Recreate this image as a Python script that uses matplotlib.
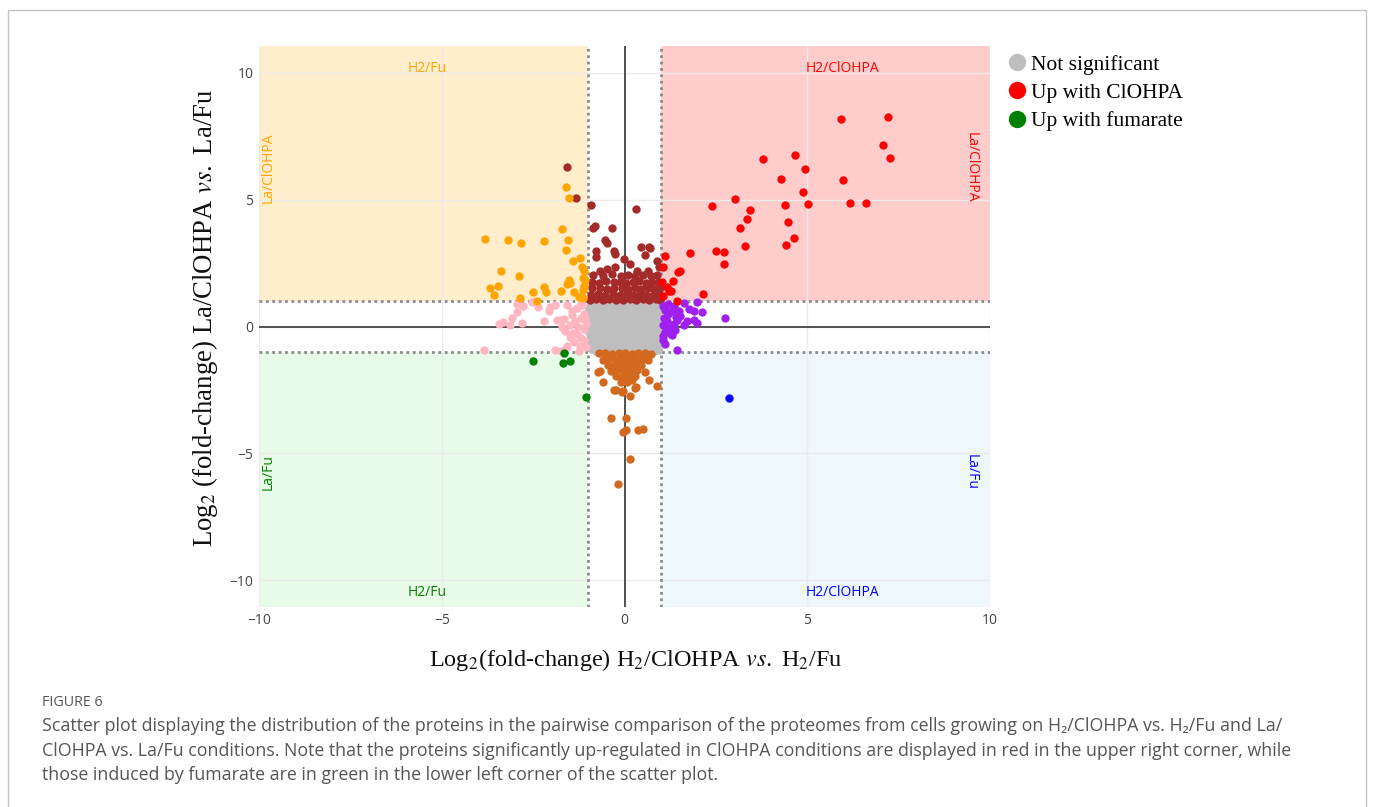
"""
Scatter of log2 fold-changes, H2 vs La conditions (figure 6)
"""
import matplotlib
matplotlib.use("Agg")
import matplotlib.pyplot as plt
from matplotlib.lines import Line2D
from matplotlib.patches import Rectangle

# ---- data ----
gray_x = [-0.93, -0.74, -0.56, -0.37, -0.19, 0.0, 0.18, 0.37, 0.55, 0.74, 0.92,
          -0.97, -0.84, -0.66, -0.47, -0.29, -0.1, 0.09, 0.27, 0.46, 0.64, 0.83, 0.95,
          -0.93, -0.75, -0.56, -0.38, -0.19, 0.0, 0.18, 0.37, 0.55, 0.73, 0.93,
          -0.97, -0.84, -0.65, -0.47, -0.28, -0.1, 0.08, 0.27, 0.45, 0.64, 0.82, 0.96,
          -0.93, -0.74, -0.56, -0.37, -0.19, 0.0, 0.19, 0.37, 0.56, 0.74, 0.94,
          -0.97, -0.84, -0.66, -0.47, -0.29, -0.1, 0.09, 0.27, 0.46, 0.64, 0.83, 0.95,
          -0.92, -0.73, -0.55, -0.36, -0.18, 0.01, 0.2, 0.38, 0.57, 0.75, 0.93,
          -0.96, -0.84, -0.65, -0.47, -0.28, -0.1, 0.08, 0.27, 0.45, 0.64, 0.82, 0.94,
          -0.9, -0.72, -0.53, -0.35, -0.16, 0.03, 0.21, 0.4, 0.58, 0.77, 0.92,
          -0.75, 0.80]
gray_y = [0.92, 0.91, 0.93, 0.92, 0.9, 0.92, 0.93, 0.91, 0.92, 0.9, 0.91,
          0.68, 0.69, 0.7, 0.68, 0.69, 0.7, 0.68, 0.69, 0.7, 0.68, 0.69, 0.68,
          0.46, 0.45, 0.47, 0.46, 0.45, 0.46, 0.47, 0.45, 0.46, 0.47, 0.45,
          0.23, 0.22, 0.24, 0.23, 0.22, 0.24, 0.23, 0.22, 0.24, 0.23, 0.22, 0.23,
          0.0, 0.01, -0.01, 0.0, 0.01, 0.0, -0.01, 0.0, 0.01, 0.0, -0.01,
          -0.23, -0.22, -0.24, -0.23, -0.22, -0.24, -0.23, -0.22, -0.24, -0.23, -0.22, -0.23,
          -0.46, -0.45, -0.47, -0.46, -0.45, -0.46, -0.47, -0.45, -0.46, -0.47, -0.45,
          -0.69, -0.68, -0.7, -0.69, -0.68, -0.7, -0.69, -0.68, -0.7, -0.69, -0.68, -0.69,
          -0.9, -0.92, -0.91, -0.93, -0.9, -0.92, -0.91, -0.93, -0.9, -0.92, -0.91,
          -1.02, -0.97]

brown_x = [-1.56, -1.33, -0.91, 0.31, -0.86, -0.80, -0.34, -0.52, -0.47, -0.79, -0.77,
           -0.29, -0.25, 0.44, 0.66, 0.69, 0.57, 0.89, 0.94, -0.02, 0.16, -0.66, -0.47,
           -0.27, 0.35, 0.64,
           -0.85, -0.6, -0.35, -0.1, 0.1, 0.3, 0.5, 0.72, 0.9,
           -0.9, -0.7, -0.5, -0.3, -0.12, 0.05, 0.22, 0.4, 0.58, 0.76, 0.93,
           -0.88, -0.68, -0.48, -0.28, -0.08, 0.1, 0.28, 0.46, 0.64, 0.82, 0.96,
           -0.92, -0.72, -0.52, -0.32, -0.12, 0.06, 0.24, 0.42, 0.6, 0.78, 0.95,
           -0.95, -0.78, -0.6, -0.42, -0.24, -0.05, 0.14, 0.32, 0.5, 0.68, 0.86, 0.98]
brown_y = [6.29, 5.08, 4.78, 4.62, 3.90, 3.95, 3.87, 3.39, 3.28, 2.99, 2.73,
           2.99, 2.86, 3.12, 3.15, 3.10, 2.80, 2.60, 2.33, 2.66, 2.47, 2.20, 2.27,
           2.33, 2.20, 2.18,
           2.02, 1.98, 2.05, 1.97, 2.03, 1.99, 2.04, 1.98, 2.02,
           1.76, 1.73, 1.78, 1.74, 1.77, 1.72, 1.76, 1.79, 1.73, 1.76, 1.74,
           1.5, 1.53, 1.48, 1.52, 1.5, 1.47, 1.53, 1.49, 1.51, 1.48, 1.52,
           1.26, 1.28, 1.24, 1.27, 1.25, 1.29, 1.24, 1.27, 1.26, 1.23, 1.27,
           1.06, 1.07, 1.05, 1.08, 1.06, 1.05, 1.07, 1.06, 1.08, 1.05, 1.07, 1.06]

choc_x = [-0.36, 0.05, 0.03, -0.04, 0.36, 0.50, 0.14, -0.17, -0.59, -0.72, -0.67,
          0.55, 0.66, 0.89, -0.30, -0.24, -0.07, -0.03, 0.14, 0.28, 0.31, 0.21,
          -0.7, -0.52, -0.34, -0.16, 0.02, 0.2, 0.38, 0.56, 0.72,
          -0.6, -0.42, -0.24, -0.06, 0.12, 0.3, 0.48, 0.64,
          -0.45, -0.27, -0.09, 0.09, 0.27, 0.45,
          -0.38, -0.2, -0.02, 0.16, 0.34,
          -0.22, -0.04, 0.12, 0.3,
          -0.1, 0.06]
choc_y = [-3.60, -3.62, -4.08, -4.16, -4.07, -4.03, -5.20, -6.19, -2.19, -1.80, -1.75,
          -1.81, -2.11, -2.34, -2.52, -2.52, -2.57, -2.55, -2.73, -2.44, -2.38, -2.09,
          -1.06, -1.05, -1.07, -1.05, -1.06, -1.08, -1.05, -1.06, -1.07,
          -1.3, -1.28, -1.31, -1.27, -1.29, -1.3, -1.28, -1.31,
          -1.52, -1.5, -1.53, -1.49, -1.51, -1.52,
          -1.74, -1.72, -1.75, -1.73, -1.71,
          -1.96, -1.94, -1.97, -1.95,
          -2.2, -2.18]

pink_x = [-3.85, -3.44, -3.32, -3.14, -3.07, -2.94, -2.95, -2.80, -2.77, -2.53, -2.42,
          -2.37, -2.21, -2.07, -2.04, -1.91, -1.84, -1.76, -1.66, -1.70, -1.64, -1.57,
          -1.50, -1.89, -1.60, -1.75, -1.25, -1.57, -1.48, -1.43, -1.29, -1.20, -1.12,
          -1.35, -1.20, -1.10, -1.30, -1.15, -1.05, -1.10, -1.38, -1.05, -1.22, -1.45,
          -1.28, -1.08, -1.40, -1.20]
pink_y = [-0.92, 0.08, 0.16, 0.06, 0.35, 0.56, 0.87, 0.14, 0.80, 0.98, 0.96,
          0.76, 0.20, 0.63, 0.76, 0.83, 0.26, 0.24, 0.30, -0.03, -0.16, 0.85,
          -0.42, -0.92, -0.84, -0.98, -0.98, -0.75, 0.04, 0.63, -0.28, -0.45, -0.55,
          0.20, 0.35, 0.50, 0.72, 0.85, 0.10, -0.10, -0.60, -0.80, -0.75, 0.45,
          0.0, 0.30, -0.25, 0.90]

purple_x = [2.76, 1.44, 1.62, 1.97, 1.76, 1.90, 2.11, 1.90, 1.99, 1.62, 1.53,
            1.35, 1.40, 1.06, 1.26, 1.31, 1.05, 1.12, 1.20, 1.08, 1.15, 1.30,
            1.05, 1.22, 1.10, 1.45, 1.38, 1.05, 1.18, 1.35, 1.50, 1.70, 1.12]
purple_y = [0.34, -0.94, 0.92, 0.96, 0.70, 0.63, 0.59, 0.24, 0.13, 0.04, 0.43,
            0.10, 0.37, -0.52, -0.29, -0.35, 0.80, 0.65, 0.50, 0.35, 0.20, 0.60,
            0.05, -0.05, -0.20, 0.25, -0.15, -0.38, 0.90, 0.82, 0.60, 0.20, -0.70]

orange_x = [-1.59, -1.52, -3.82, -3.20, -2.84, -2.19, -1.70, -1.54, -1.60, -1.21, -1.42,
            -1.16, -3.39, -2.88, -1.11, -1.13, -1.53, -1.56, -1.50, -1.09, -3.69, -3.47,
            -3.58, -2.19, -2.16, -2.51, -1.75, -1.37, -1.13, -2.85, -1.13, -2.39, -1.10,
            -1.25]
orange_y = [5.51, 5.07, 3.46, 3.41, 3.29, 3.35, 3.86, 3.40, 3.03, 2.68, 2.59,
            2.34, 2.19, 1.97, 2.20, 1.93, 1.85, 1.69, 1.72, 1.84, 1.51, 1.60,
            1.25, 1.57, 1.37, 1.35, 1.41, 1.37, 1.42, 1.11, 1.13, 1.01, 1.60,
            1.15]

red_x = [5.92, 7.22, 7.07, 7.27, 3.80, 4.66, 4.94, 4.28, 5.97, 4.88, 3.03,
         2.40, 3.42, 4.38, 5.02, 6.18, 6.62, 3.36, 3.16, 4.48, 4.64, 4.43,
         3.31, 1.80, 2.51, 2.72, 2.71, 1.51, 1.46, 1.34, 2.14, 1.28, 1.12,
         1.02, 1.45, 1.05, 1.15, 1.22, 1.06]
red_y = [8.18, 8.24, 7.15, 6.64, 6.60, 6.76, 6.21, 5.83, 5.77, 5.30, 5.01,
         4.75, 4.59, 4.78, 4.82, 4.86, 4.87, 4.23, 3.90, 4.11, 3.50, 3.23,
         3.19, 2.90, 2.98, 2.95, 2.45, 2.18, 2.15, 1.78, 1.27, 1.39, 2.76,
         1.74, 1.02, 2.34, 1.54, 1.40, 1.20]

green_x = [-2.51, -1.69, -1.50, -1.05, -1.66]
green_y = [-1.37, -1.43, -1.37, -2.78, -1.04]

blue_x = [2.87]
blue_y = [-2.82]

legend_labels = ["Not significant", "Up with ClOHPA", "Up with fumarate"]

# ---- figure ----
fig = plt.figure(figsize=(13.73, 8.07), dpi=100)
ax = fig.add_axes([259 / 1373, 200 / 807, 731 / 1373, 561 / 807])

# page frame
fig.patches.append(Rectangle((8 / 1373, -0.01), 1358 / 1373, 797 / 807 + 0.01,
                             transform=fig.transFigure, fill=False,
                             edgecolor="#c4c4c4", lw=1))

# quadrant shading
ax.add_patch(Rectangle((-10, 1), 9, 10.05, facecolor="#FFA500", alpha=0.2, lw=0, zorder=0.2))
ax.add_patch(Rectangle((1, 1), 9, 10.05, facecolor="#FF0000", alpha=0.2, lw=0, zorder=0.2))
ax.add_patch(Rectangle((-10, -11.05), 9, 10.05, facecolor="#90EE90", alpha=0.2, lw=0, zorder=0.2))
ax.add_patch(Rectangle((1, -11.05), 9, 10.05, facecolor="#ADD8E6", alpha=0.2, lw=0, zorder=0.2))

ax.set_axisbelow(True)
ax.grid(True, color="#ebebeb", lw=1)

ax.axvline(0, color="#444444", lw=1.3, zorder=1)
ax.axhline(0, color="#444444", lw=1.3, zorder=1)
for v in (-1, 1):
    ax.axvline(v, color="#8a8a8a", lw=2, ls=(0, (1, 1.3)), zorder=1)
    ax.axhline(v, color="#8a8a8a", lw=2, ls=(0, (1, 1.3)), zorder=1)

ms = 36
ax.scatter(gray_x, gray_y, s=40, color="#BEBEBE", lw=0, zorder=3)
ax.scatter(choc_x, choc_y, s=ms, color="#D2691E", lw=0, zorder=3)
ax.scatter(brown_x, brown_y, s=ms, color="#A52A2A", lw=0, zorder=3)
ax.scatter(pink_x, pink_y, s=ms, color="#FFB6C1", lw=0, zorder=3)
ax.scatter(purple_x, purple_y, s=ms, color="#A020F0", lw=0, zorder=3)
ax.scatter(orange_x, orange_y, s=ms, color="#FFA500", lw=0, zorder=3)
ax.scatter(red_x, red_y, s=ms, color="#FF0000", lw=0, zorder=3)
ax.scatter(green_x, green_y, s=ms, color="#008000", lw=0, zorder=3)
ax.scatter(blue_x, blue_y, s=ms, color="#0000FF", lw=0, zorder=3)

ax.set_xlim(-10, 10)
ax.set_ylim(-11.05, 11.05)
ax.set_xticks([-10, -5, 0, 5, 10])
ax.set_yticks([-10, -5, 0, 5, 10])
for s in ax.spines.values():
    s.set_visible(False)
ax.tick_params(length=0, labelsize=10, labelcolor="#444444", pad=4)
for lab in ax.get_xticklabels() + ax.get_yticklabels():
    lab.set_family(["Open Sans", "DejaVu Sans"])

# quadrant labels
qfont = dict(fontsize=10, family="Open Sans", ha="center", va="center", zorder=4)
ax.text(-5.4, 10.16, "H2/Fu", color="#FFA500", **qfont)
ax.text(5.96, 10.16, "H2/ClOHPA", color="#FF0000", **qfont)
ax.text(-9.74, 6.26, "La/ClOHPA", color="#FFA500", rotation=90, **qfont)
ax.text(9.47, 6.26, "La/ClOHPA", color="#FF0000", rotation=-90, **qfont)
ax.text(-9.74, -5.75, "La/Fu", color="#008000", rotation=90, **qfont)
ax.text(9.47, -5.75, "La/Fu", color="#0000FF", rotation=-90, **qfont)
ax.text(-5.4, -10.47, "H2/Fu", color="#008000", **qfont)
ax.text(5.96, -10.47, "H2/ClOHPA", color="#0000FF", **qfont)

# axis titles
fig.text(635.5 / 1373, (807 - 660) / 807,
         r"Log$_2$(fold-change) H$_2$/ClOHPA $\mathit{vs}.$ H$_2$/Fu",
         family="Liberation Serif", math_fontfamily="stix", fontsize=17.5,
         ha="center", va="center", color="#111111")
fig.text(205 / 1373, (807 - 318) / 807,
         r"Log$_2$ (fold-change) La/ClOHPA $\mathit{vs}.$ La/Fu",
         family="Liberation Serif", math_fontfamily="stix", fontsize=19.3,
         rotation=90, ha="center", va="center", color="#111111")

# legend
handles = [Line2D([], [], ls="", marker="o", ms=12.5, color=c, mec="none")
           for c in ("#BEBEBE", "#FF0000", "#008000")]
ax.legend(handles, legend_labels, loc="upper left", bbox_to_anchor=(1.011, 1.0),
          frameon=False, handletextpad=0.15, handlelength=1.0, labelspacing=0.38,
          borderaxespad=0, prop={"family": "Liberation Serif", "size": 15.5})

# caption
fig.text(42 / 1373, (807 - 702) / 807, "FIGURE 6", fontsize=10.3, color="#555555",
         family="Open Sans", va="center", ha="left")
caption = [
    "Scatter plot displaying the distribution of the proteins in the pairwise comparison of the "
    "proteomes from cells growing on H\u2082/ClOHPA vs. H\u2082/Fu and La/",
    "ClOHPA vs. La/Fu conditions. Note that the proteins significantly up-regulated in ClOHPA "
    "conditions are displayed in red in the upper right corner, while",
    "those induced by fumarate are in green in the lower left corner of the scatter plot.",
]
for i, line in enumerate(caption):
    fig.text(42 / 1373, (807 - 726 - 24.5 * i) / 807, line, fontsize=12.8,
             color="#555555", family=["Open Sans", "DejaVu Sans"], va="center", ha="left")

fig.savefig("out.png", dpi=100)
